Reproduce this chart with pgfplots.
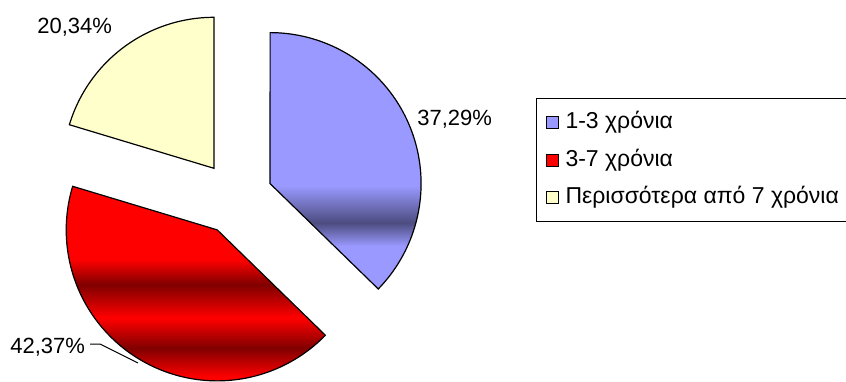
\documentclass[border=0pt]{standalone}
\usepackage{pgfplots}
\usepackage{pgfplotstable}
\pgfplotsset{compat=1.18}
\usepackage{fontspec}
\setmainfont{Liberation Sans}

\definecolor{blueL}{RGB}{153,153,255}
\definecolor{blueD}{RGB}{76,76,128}
\definecolor{redL}{RGB}{255,0,0}
\definecolor{redD}{RGB}{128,0,0}
\definecolor{yel}{RGB}{255,255,204}

\pgfdeclareverticalshading{blueslice}{100bp}{color(0bp)=(blueL); color(33.4bp)=(blueL); color(37.9bp)=(blueD); color(45.1bp)=(blueL); color(100bp)=(blueL)}
\pgfdeclareverticalshading{redslice}{100bp}{color(0bp)=(redL); color(26bp)=(redL); color(33.4bp)=(redD); color(41.2bp)=(redL); color(49.7bp)=(redD); color(56.2bp)=(redL); color(100bp)=(redL)}

\pgfplotstableread{
value
37.29
42.37
20.34
}\piedata

\begin{document}
\begin{tikzpicture}
\pgfplotstablegetelem{0}{value}\of\piedata \let\va\pgfplotsretval
\pgfplotstablegetelem{1}{value}\of\piedata \let\vb\pgfplotsretval
\pgfplotstablegetelem{2}{value}\of\piedata \let\vc\pgfplotsretval
% angles (clockwise from top)
\pgfmathsetmacro\aA{90-3.6*\va}
\pgfmathsetmacro\aB{\aA-3.6*\vb}
\pgfmathsetmacro\aC{\aB-3.6*\vc}
\pgfmathsetmacro\mA{(90+\aA)/2}
\pgfmathsetmacro\mB{(\aA+\aB)/2}
\pgfmathsetmacro\mC{(\aB+\aC)/2}
\def\cx{236}\def\cy{183}\def\ex{37}\def\R{151}
\pgfmathsetmacro\xA{\cx+\ex*cos(\mA)}\pgfmathsetmacro\yA{\cy+\ex*sin(\mA)}
\pgfmathsetmacro\xB{\cx+\ex*cos(\mB)}\pgfmathsetmacro\yB{\cy+\ex*sin(\mB)}
\pgfmathsetmacro\xC{\cx+\ex*cos(\mC)}\pgfmathsetmacro\yC{\cy+\ex*sin(\mC)}
\pgfmathsetmacro\aCC{\aB+360}
\useasboundingbox (0,0) rectangle (423pt,190.5pt);
\begin{axis}[at={(0,0)}, anchor=south west, x=0.5pt, y=0.5pt,
  xmin=0, xmax=846, ymin=0, ymax=381, hide axis, clip=false,
  legend cell align=left,
  legend style={at={(axis cs:536,283)}, anchor=north west, draw=black, line width=0.5pt,
    inner xsep=4.5pt, inner ysep=6.5pt, row sep=7.75pt, column sep=3.5pt,
    font=\fontsize{11.5}{13}\selectfont,
    nodes={inner sep=0pt, text height=8.5pt, text depth=2.5pt}},
]
\addplot[forget plot, draw=black, line width=0.6pt, shade, shading=blueslice,
  domain=\aA:90, samples=90, variable=\t]
  ({\xA+\R*cos(\t)},{\yA+\R*sin(\t)}) -- (axis cs:\xA,\yA) -- cycle;
\addplot[forget plot, draw=black, line width=0.6pt, shade, shading=redslice,
  domain=\aB:\aA, samples=100, variable=\t]
  ({\xB+\R*cos(\t)},{\yB+\R*sin(\t)}) -- (axis cs:\xB,\yB) -- cycle;
\addplot[forget plot, draw=black, line width=0.6pt, fill=yel,
  domain=90:\aCC, samples=60, variable=\t]
  ({\xC+\R*cos(\t)},{\yC+\R*sin(\t)}) -- (axis cs:\xC,\yC) -- cycle;

\addlegendimage{legend image code/.code={\draw[fill=blueL,draw=black,line width=0.5pt] (0pt,-3pt) rectangle (6pt,3pt);}}
\addlegendentry{1-3 χρόνια}
\addlegendimage{legend image code/.code={\draw[fill=redL,draw=black,line width=0.5pt] (0pt,-3pt) rectangle (6pt,3pt);}}
\addlegendentry{3-7 χρόνια}
\addlegendimage{legend image code/.code={\draw[fill=yel,draw=black,line width=0.5pt] (0pt,-3pt) rectangle (6pt,3pt);}}
\addlegendentry{Περισσότερα από 7 χρόνια}

\node[anchor=base west, inner sep=0pt, font=\fontsize{11}{13}\selectfont] at (axis cs:417,256) {37,29\%};
\node[anchor=base west, inner sep=0pt, font=\fontsize{11}{13}\selectfont] at (axis cs:37,348) {20,34\%};
\node[anchor=base west, inner sep=0pt, font=\fontsize{11}{13}\selectfont] at (axis cs:10,28) {42,37\%};
\draw[black, line width=0.5pt] (axis cs:90,37) -- (axis cs:100,37) -- (axis cs:138,18);
\end{axis}
\end{tikzpicture}
\end{document}
